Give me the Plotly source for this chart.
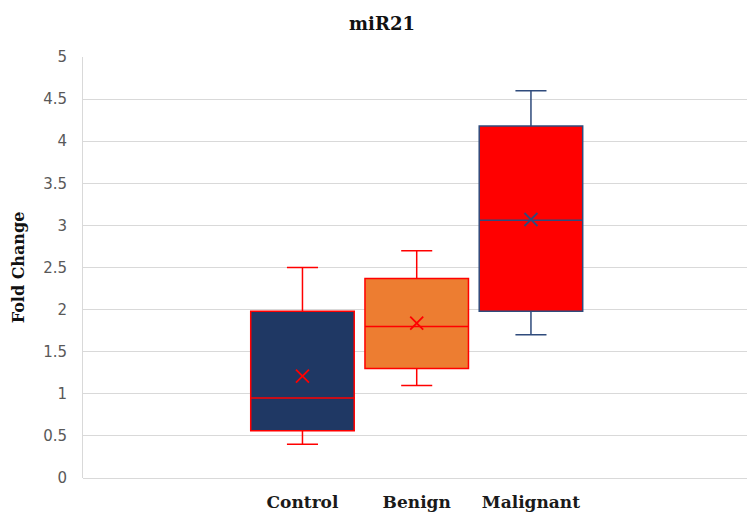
import plotly.graph_objects as go

categories = ["Control", "Benign", "Malignant"]
lower_whisker = [0.40, 1.10, 1.70]
q1_values = [0.56, 1.30, 1.98]
median_values = [0.95, 1.80, 3.06]
q3_values = [1.98, 2.37, 4.18]
upper_whisker = [2.50, 2.70, 4.60]
mean_values = [1.21, 1.84, 3.07]

fill_colors = ["#1F3864", "#ED7D31", "#FF0000"]
line_colors = ["#FF0000", "#FF0000", "#2F4B7C"]

fig = go.Figure()
for i, cat in enumerate(categories):
    fig.add_trace(go.Box(
        x=[cat], q1=[q1_values[i]], median=[median_values[i]], q3=[q3_values[i]],
        lowerfence=[lower_whisker[i]], upperfence=[upper_whisker[i]],
        fillcolor=fill_colors[i], line=dict(color=line_colors[i], width=1.5),
        whiskerwidth=0.3, showlegend=False, name=cat, hoverinfo="skip",
    ))
    fig.add_trace(go.Scatter(
        x=[cat], y=[mean_values[i]], mode="markers",
        marker=dict(symbol="x-thin", size=13, line=dict(color=line_colors[i], width=1.8)),
        showlegend=False, hoverinfo="skip",
    ))

fig.update_layout(
    width=747, height=512,
    margin=dict(l=83, r=0, t=57, b=34),
    paper_bgcolor="white", plot_bgcolor="white",
    boxmode="overlay", boxgap=0.094, boxgroupgap=0,
    title=dict(text="<b>miR21</b>", x=382 / 747, xanchor="center",
               y=1 - 24 / 512, yanchor="middle",
               font=dict(family="DejaVu Serif", size=18, color="#111111")),
)
fig.update_xaxes(
    type="category", categoryorder="array", categoryarray=categories,
    range=[-1.921, 3.891], showgrid=False, zeroline=False, showline=False,
    tickfont=dict(family="DejaVu Serif", size=17, color="#1a1a1a"),
    tickprefix="<b>", ticksuffix="</b>", ticklabelstandoff=12,
)
fig.update_yaxes(
    range=[0, 5], dtick=0.5, showgrid=True, gridcolor="#D9D9D9", gridwidth=1,
    zeroline=True, zerolinecolor="#D9D9D9", zerolinewidth=1,
    showline=True, linecolor="#D9D9D9", linewidth=1,
    tickfont=dict(family="DejaVu Sans", size=15, color="#595959"),
    ticklabelstandoff=12,
    title=dict(text="<b>Fold Change</b>", standoff=14,
               font=dict(family="DejaVu Serif", size=16, color="#111111")),
)

fig.write_html("out.html", config={"displayModeBar": False},
               post_script="document.body.style.margin='0px';document.body.style.overflow='hidden';")
